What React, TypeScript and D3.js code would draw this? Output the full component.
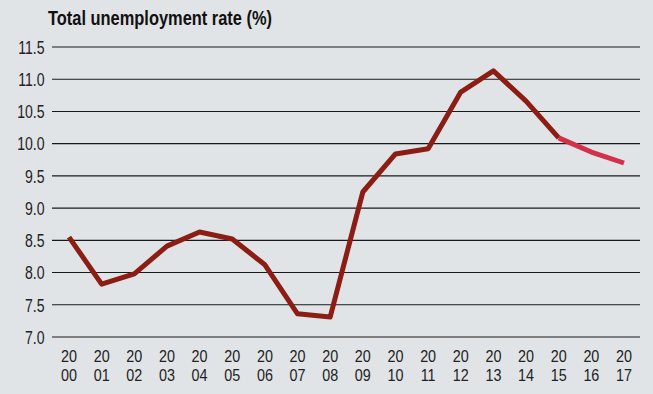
import React from "react";
import * as d3 from "d3";

const years = ["2000","2001","2002","2003","2004","2005","2006","2007","2008","2009","2010","2011","2012","2013","2014","2015","2016","2017"];
const rates = [8.55, 7.82, 7.98, 8.41, 8.63, 8.52, 8.12, 7.36, 7.31, 9.25, 9.84, 9.92, 10.8, 11.13, 10.66, 10.09, 9.87, 9.7];
const forecastFrom = "2015";
const yTicks = [7.0, 7.5, 8.0, 8.5, 9.0, 9.5, 10.0, 10.5, 11.0, 11.5];
const title = "Total unemployment rate (%)";

const W = 653, H = 394;
const FONT = "'Liberation Sans', Arial, sans-serif";
const SX = 0.76;

export default function App() {
  const x = d3.scalePoint<string>().domain(years).range([69, 624]);
  const y = d3.scaleLinear().domain([7, 11.5]).range([337, 47]);
  const line = d3.line<number>().x((_, i) => x(years[i])!).y(d => y(d));
  const fi = years.indexOf(forecastFrom);
  const actual = rates.slice(0, fi + 1);
  const fc = rates.slice(fi);
  const lineF = d3.line<number>().x((_, i) => x(years[i + fi])!).y(d => y(d));
  return (
    <div style={{ position: "fixed", left: 0, top: 0 }}>
      <svg width={W} height={H} style={{ display: "block" }}>
        <rect width={W} height={H} fill="#e1e4e6" />
        <text x={48} y={24.5} fontFamily={FONT} fontWeight="bold" fontSize={19.5} fill="#111"
          textLength={224} lengthAdjust="spacingAndGlyphs">{title}</text>
        {yTicks.map(t => (
          <g key={t}>
            <line x1={52} x2={640} y1={y(t)} y2={y(t)} stroke="#1a1a1a" strokeWidth={1.1} />
            <g transform={`translate(44.5,${y(t) + 6.8}) scale(${SX},1)`}>
              <text textAnchor="middle" x={0} fontFamily={FONT} fontSize={18.5} fill="#222" style={{ textAnchor: "end" }}>{t.toFixed(1)}</text>
            </g>
          </g>
        ))}
        {years.map(yr => (
          <g key={yr} transform={`translate(${x(yr)},0) scale(0.87,1)`}>
            <text x={0} y={362.5} textAnchor="middle" fontFamily={FONT} fontSize={16.5} fill="#222">{yr.slice(0, 2)}</text>
            <text x={0} y={381} textAnchor="middle" fontFamily={FONT} fontSize={16.5} fill="#222">{yr.slice(2)}</text>
          </g>
        ))}
        <path d={line(actual)!} fill="none" stroke="#8c1d14" strokeWidth={5} strokeLinejoin="round" />
        <path d={lineF(fc)!} fill="none" stroke="#d3304a" strokeWidth={5} strokeLinejoin="round" />
      </svg>
    </div>
  );
}
